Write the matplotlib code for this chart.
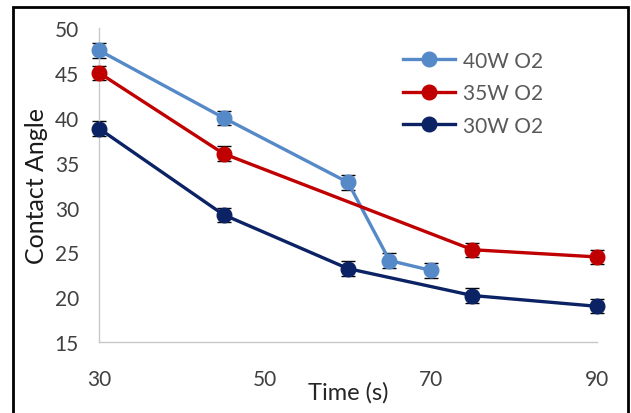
import matplotlib.pyplot as plt
from matplotlib.patches import Rectangle

plt.rcParams['font.family'] = ['Lato', 'DejaVu Sans']

x_40w = [30, 45, 60, 65, 70]
y_40w = [47.5, 40.0, 32.8, 24.1, 23.0]
x_35w = [30, 45, 75, 90]
y_35w = [45.0, 36.0, 25.3, 24.5]
x_30w = [30, 45, 60, 75, 90]
y_30w = [38.8, 29.2, 23.2, 20.2, 19.0]
err = 0.8

series = [
    ("40W O2", x_40w, y_40w, '#5689c8'),
    ("35W O2", x_35w, y_35w, '#c00000'),
    ("30W O2", x_30w, y_30w, '#0b2265'),
]

fig = plt.figure(figsize=(6.31, 4.14), dpi=100)
ax = fig.add_axes([0.157, 0.171, 0.789, 0.759])

for name, xs, ys, c in series:
    ax.errorbar(xs, ys, yerr=err, fmt='none', ecolor='black', elinewidth=1,
                capsize=5, capthick=1, zorder=2, clip_on=False)
    ax.plot(xs, ys, '-o', color=c, lw=2.4, markersize=10.5, label=name,
            zorder=3, clip_on=False)

ax.set_xlim(30, 90)
ax.set_ylim(15, 50)
ax.set_xticks([30, 50, 70, 90])
ax.set_yticks(range(15, 51, 5))
for s in ['top', 'right']:
    ax.spines[s].set_visible(False)
for s in ['left', 'bottom']:
    ax.spines[s].set_color('#c8c8c8')
    ax.spines[s].set_linewidth(1)
ax.tick_params(length=0, labelsize=15, colors='#404040')
ax.tick_params(axis='x', pad=19)
ax.tick_params(axis='y', pad=14.5)

ax.set_xlabel("Time (s)", fontsize=17, color='#262626')
ax.xaxis.set_label_coords(0.5, -0.125)
ax.set_ylabel("Contact Angle", fontsize=18, color='#1a1a1a')
ax.yaxis.set_label_coords(-0.103, 0.5)

leg = ax.legend(loc='upper left', bbox_to_anchor=(0.61, 0.928), frameon=False,
                fontsize=15, handlelength=2.5, labelspacing=0.6,
                handletextpad=0.4, borderaxespad=0, borderpad=0)
for t in leg.get_texts():
    t.set_color('#595959')

fig.patches.append(Rectangle((0.0206, -0.05), 0.974, 1.031, transform=fig.transFigure,
                             fill=False, edgecolor='black', linewidth=2))

fig.savefig('out.png', dpi=100)
